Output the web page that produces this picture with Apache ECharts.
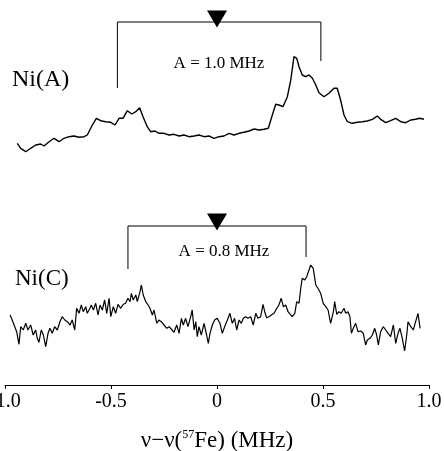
<!DOCTYPE html>
<html>
<head>
<meta charset="utf-8">
<title>Ni(A) / Ni(C) ENDOR</title>
<script src="https://cdn.jsdelivr.net/npm/echarts@6/dist/echarts.min.js"></script>
<style>
  html, body { margin: 0; padding: 0; background: #fff; }
  #main { width: 444px; height: 451px; }
</style>
</head>
<body>
<div id="main"></div>
<script>
// frequency offset (MHz) and signal (a.u., with vertical offset)
var niAFreq = [-0.942,-0.926,-0.902,-0.879,-0.855,-0.832,-0.816,-0.792,-0.769,-0.745,-0.722,-0.698,-0.675,-0.651,-0.627,-0.612,
  -0.588,-0.569,-0.549,-0.525,-0.501,-0.481,-0.462,-0.443,-0.423,-0.402,-0.383,-0.365,-0.349,-0.329,-0.313,-0.292,-0.274,
  -0.250,-0.226,-0.203,-0.179,-0.156,-0.132,-0.108,-0.085,-0.061,-0.038,-0.014,0.009,0.033,0.057,0.080,0.104,0.127,0.151,
  0.175,0.198,0.222,0.242,0.261,0.277,0.292,0.311,0.332,0.348,0.363,0.376,0.387,0.402,0.418,0.434,0.450,0.466,0.481,0.505,
  0.528,0.552,0.567,0.583,0.599,0.615,0.638,0.662,0.685,0.709,0.733,0.756,0.772,0.796,0.819,0.843,0.867,0.890,0.914,0.937,
  0.956,0.976];
var niASignal = [241.7,236.7,233.3,236.7,240,241,239,243.3,246.7,243.3,246.7,248.3,249,247.7,248.3,250,
  260,266.7,264.3,263.3,262.7,260,266.7,266.7,274.3,271,273.3,277.3,268.3,258.3,253.3,254,251.7,
  251.7,250,250.7,249,250,248.3,249,250,248.3,249,246.7,248.3,249,251.7,250,251.7,252.7,254,
  256,255,255.7,256.7,270,280.7,280,278.3,288.3,305,328.3,326.7,318.3,310,308.3,310,306.7,300,292.3,288.3,
  291.7,296.7,296.7,285,270,263.3,261.7,262.7,263.3,264,265.7,269,265.7,262.3,264.3,266.7,263.3,262.3,265,265.7,
  266.7,265.7];

var niCFreq = [-0.976,-0.966,-0.954,-0.945,-0.934,-0.926,-0.914,-0.902,-0.892,-0.879,-0.867,-0.855,-0.848,-0.840,-0.829,-0.819,
  -0.808,-0.797,-0.788,-0.777,-0.766,-0.753,-0.741,-0.730,-0.718,-0.706,-0.693,-0.683,-0.671,-0.662,-0.651,-0.640,-0.631,
  -0.619,-0.612,-0.599,-0.593,-0.583,-0.572,-0.561,-0.552,-0.541,-0.530,-0.520,-0.509,-0.501,-0.489,-0.478,-0.467,-0.454,
  -0.442,-0.431,-0.420,-0.410,-0.404,-0.395,-0.383,-0.376,-0.363,-0.357,-0.348,-0.336,-0.325,-0.316,-0.305,-0.297,-0.284,
  -0.274,-0.263,-0.250,-0.237,-0.226,-0.216,-0.203,-0.190,-0.179,-0.168,-0.159,-0.148,-0.137,-0.124,-0.117,-0.108,-0.100,
  -0.093,-0.085,-0.074,-0.061,-0.049,-0.041,-0.033,-0.022,-0.011,0.001,0.014,0.025,0.036,0.049,0.061,0.072,0.083,0.093,
  0.104,0.115,0.124,0.135,0.146,0.159,0.171,0.183,0.193,0.206,0.217,0.225,0.234,0.245,0.256,0.269,0.282,0.292,0.303,0.313,
  0.324,0.335,0.355,0.367,0.376,0.387,0.395,0.402,0.414,0.423,0.434,0.442,0.454,0.466,0.476,0.489,0.501,0.513,0.524,0.536,
  0.549,0.555,0.565,0.575,0.586,0.599,0.607,0.618,0.627,0.634,0.643,0.654,0.665,0.678,0.690,0.701,0.709,0.722,0.733,0.744,
  0.753,0.761,0.772,0.784,0.796,0.807,0.819,0.832,0.843,0.854,0.863,0.874,0.885,0.895,0.901,0.914,0.926,0.937,0.948,0.958];
var niCSignal = [70,65,58.3,53.3,40.7,58.3,55,61.7,55,60,50,55,46.7,42.7,55,50,
  38.3,51.7,56.7,51.7,58.3,55,63.3,68.3,65,63.3,60,65,55,76.7,71.7,80,73.3,
  78.3,71.7,76.7,80,75,81.7,70,80,75,85,71.7,86.7,68.3,78.3,71.7,80.7,76.7,
  80.7,81.7,86.7,83.3,91.7,85,90,83.3,93.3,100,90,83.3,80,76.7,70,75,61.7,
  65,63.3,60,56.7,58.3,56,52.7,60,51.7,66.7,60,66.7,58.3,68.3,75,55,63.3,
  48.3,58.3,50,61.7,50,41.7,51.7,60,65,66.7,61.7,51.7,58.3,65,71.7,61.7,66.7,55,
  65,61.7,66.7,68.3,66.7,68.3,60,71.7,66.7,68.3,80.7,73.3,67.3,68.3,70,71.7,76.7,80,86.7,78.3,
  80,73.3,68.3,71.7,83.3,81.7,96.7,106.7,105,108.3,115,120,116.7,100,96.7,91.7,81.7,78.3,75,61.7,
  73.3,83.3,70.7,73.3,71.7,76.7,71.7,73.3,68.3,51.7,56.7,61.7,53.3,54,51.7,40,45,46.7,50,56.7,
  50,40,53.3,58.3,55,51.7,48.3,60,41.7,51.7,56.7,46.7,34,50,63.3,58.3,55,63.3,71.7,56.7];

// hyperfine brackets: [x, y] corners, and centre markers
var bracketA = [[-0.47, 297], [-0.47, 363], [0.49, 363], [0.49, 324]];
var bracketC = [[-0.42, 116], [-0.42, 159], [0.42, 159], [0.42, 128]];
var centreMarks = [[0, 366], [0, 163]];

function pairs(xs, ys) {
  var out = [];
  for (var i = 0; i < xs.length; i++) out.push([xs[i], ys[i]]);
  return out;
}

var serif = '"Liberation Serif", "Times New Roman", serif';
var chart = echarts.init(document.getElementById('main'));

var option = {
  animation: false,
  backgroundColor: '#fff',
  grid: { left: 5, right: 15, top: 0, bottom: 66, outerBoundsMode: 'none', containLabel: false },
  xAxis: {
    type: 'value', min: -1, max: 1, interval: 0.5,
    splitLine: { show: false },
    axisLine: { lineStyle: { color: '#000', width: 1 } },
    axisTick: { length: 4, lineStyle: { color: '#000' } },
    axisLabel: {
      color: '#000', fontFamily: serif, fontSize: 20, margin: 7,
      formatter: function (v) { return v === 0 ? '0' : v.toFixed(1); }
    },
    name: 'ν−ν({sup|57}Fe) (MHz)',
    nameLocation: 'middle', nameGap: 44,
    nameTextStyle: {
      color: '#000', fontFamily: serif, fontSize: 23,
      rich: { sup: { fontSize: 12, fontFamily: serif, color: '#000', verticalAlign: 'top', lineHeight: 12 } }
    }
  },
  yAxis: { type: 'value', min: 0, max: 385, show: false },
  series: [
    { name: 'Ni(A)', type: 'line', data: pairs(niAFreq, niASignal), showSymbol: false,
      lineStyle: { color: '#000', width: 1.4 } },
    { name: 'Ni(C)', type: 'line', data: pairs(niCFreq, niCSignal), showSymbol: false,
      lineStyle: { color: '#000', width: 1.2 } },
    { type: 'line', data: bracketA, showSymbol: false, lineStyle: { color: '#000', width: 1 } },
    { type: 'line', data: bracketC, showSymbol: false, lineStyle: { color: '#000', width: 1 } },
    { type: 'scatter', data: centreMarks, symbol: 'triangle', symbolRotate: 180,
      symbolSize: [20, 17], itemStyle: { color: '#000', opacity: 1 } }
  ],
  graphic: [
    { type: 'text', left: 12, top: 68, style: { text: 'Ni(A)', font: '24px ' + serif, fill: '#000' } },
    { type: 'text', left: 15, top: 267, style: { text: 'Ni(C)', font: '23px ' + serif, fill: '#000' } },
    { type: 'text', x: 219, y: 64, style: { text: 'A = 1.0 MHz', font: '17px ' + serif, fill: '#000',
      textAlign: 'center', textVerticalAlign: 'middle' } },
    { type: 'text', x: 224, y: 252, style: { text: 'A = 0.8 MHz', font: '17px ' + serif, fill: '#000',
      textAlign: 'center', textVerticalAlign: 'middle' } }
  ]
};
chart.setOption(option);
</script>
</body>
</html>
